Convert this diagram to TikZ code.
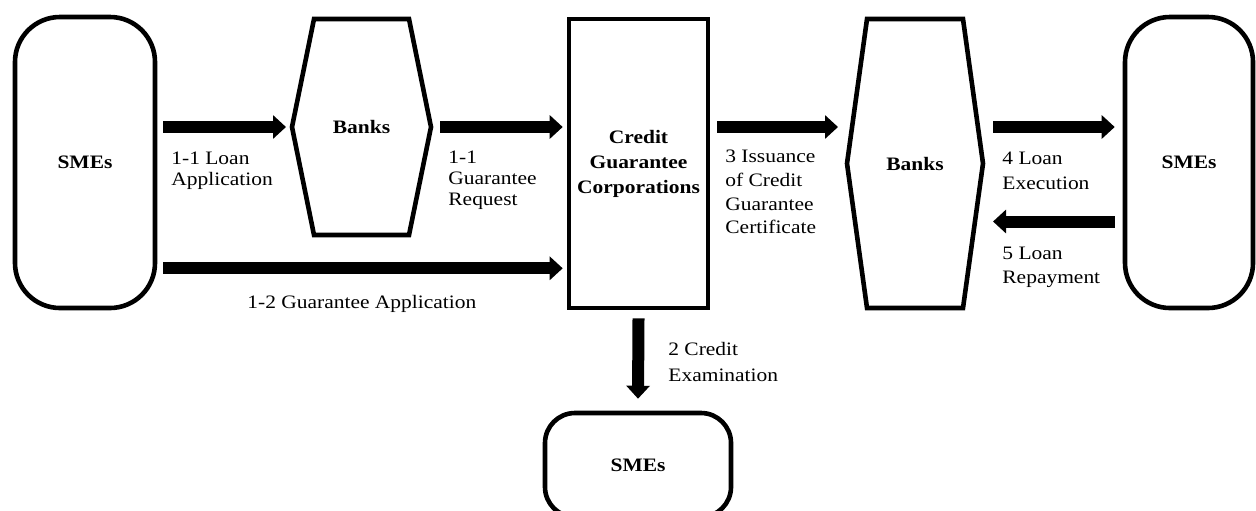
\documentclass[tikz,border=0pt]{standalone}
\usepackage{fontspec}
\setmainfont{Liberation Serif}[FakeStretch=1.13]
\usepackage{tikz}
\usetikzlibrary{arrows.meta}

% label font with its own line spacing
\newcommand{\lsp}[1]{\fontsize{9.5}{#1}\selectfont}

\tikzset{
  actor/.style={draw, line width=2.3pt, rounded corners=22.5pt, inner sep=0pt,
    font=\lsp{12pt}\bfseries},
  corpbox/.style={draw, line width=2.3pt, inner sep=0pt, align=center,
    font=\lsp{12.5pt}\bfseries},
  bankbox/.style={inner sep=0pt, outer sep=0pt, font=\lsp{12pt}\bfseries},
  hexline/.style={line width=2.3pt, line join=miter},
  fat/.style={line width=6pt, -{Triangle[length=6.5pt,width=11.5pt]}},
  lbl/.style={anchor=north west, inner sep=0pt, align=left},
}

\begin{document}
\begin{tikzpicture}[x=0.5pt, y=-0.5pt]
\useasboundingbox (0,0) rectangle (1256,510);

% parties
\node[actor, minimum width=70pt, minimum height=145.5pt] (smeL) at (85,162.5) {SMEs};
\node[bankbox, minimum width=69.5pt, minimum height=108pt] (bank1) at (361.5,127) {Banks};
\node[corpbox, minimum width=69.5pt, minimum height=144.5pt] (cgc) at (638.5,163.5)
  {Credit\\Guarantee\\Corporations};
\node[bankbox, minimum width=68pt, minimum height=144.5pt] (bank2) at (915,163.5) {Banks};
\node[actor, minimum width=64pt, minimum height=145.5pt] (smeR) at (1189,162.5) {SMEs};
\node[actor, rounded corners=15pt, minimum width=93pt, minimum height=52pt] (smeB) at (638,465) {SMEs};

% bank outlines
\draw[hexline] ([xshift=11pt]bank1.north west) -- ([xshift=-11pt]bank1.north east)
  -- (bank1.east) -- ([xshift=-11pt]bank1.south east)
  -- ([xshift=11pt]bank1.south west) -- (bank1.west) -- cycle;
\draw[hexline] ([xshift=10pt]bank2.north west) -- ([xshift=-10pt]bank2.north east)
  -- (bank2.east) -- ([xshift=-10pt]bank2.south east)
  -- ([xshift=10pt]bank2.south west) -- (bank2.west) -- cycle;

% flows
\coordinate (gapp) at ([xshift=-2pt,yshift=21pt]cgc.south west);
\draw[fat] ([xshift=3pt]smeL.east |- bank1.west) -- ([xshift=-3pt]bank1.west);
\draw[fat] ([xshift=4.5pt]bank1.east) -- ([xshift=-2pt]cgc.west |- bank1.east);
\draw[fat] ([xshift=3pt]smeL.east |- gapp) -- (gapp);
\draw[fat] ([xshift=3.5pt]cgc.east |- bank1.east) -- ([xshift=-4.5pt]bank2.west |- bank1.east);
\draw[fat] ([xshift=5pt]bank2.east |- bank1.east) -- ([xshift=-4pt]smeR.west |- bank1.east);
\draw[fat] ([xshift=-4pt,yshift=-29pt]smeR.west |- bank2.east) -- ([xshift=5pt,yshift=-29pt]bank2.east);
\draw[fat] ([yshift=-4pt]cgc.south) -- ([yshift=6pt]smeB.north);

% flow labels
\node[lbl, font=\lsp{10.3pt}] (tLoanApp) at (171,152) {1-1 Loan\\Application};
\node[lbl, font=\lsp{10.4pt}] (tGuarReq) at (448,151) {1-1\\Guarantee\\Request};
\node[lbl, font=\lsp{11.2pt}] (tGuarApp) at (247,295) {1-2 Guarantee Application};
\node[lbl, font=\lsp{11.8pt}] (tIssue) at (725,150) {3 Issuance\\of Credit\\Guarantee\\Certificate};
\node[lbl, font=\lsp{12.2pt}] (tExec) at (1002,152) {4 Loan\\Execution};
\node[lbl, font=\lsp{12pt}] (tRepay) at (1002,247) {5 Loan\\Repayment};
\node[lbl, font=\lsp{13pt}] (tExam) at (668,342) {2 Credit\\Examination};
\end{tikzpicture}
\end{document}
